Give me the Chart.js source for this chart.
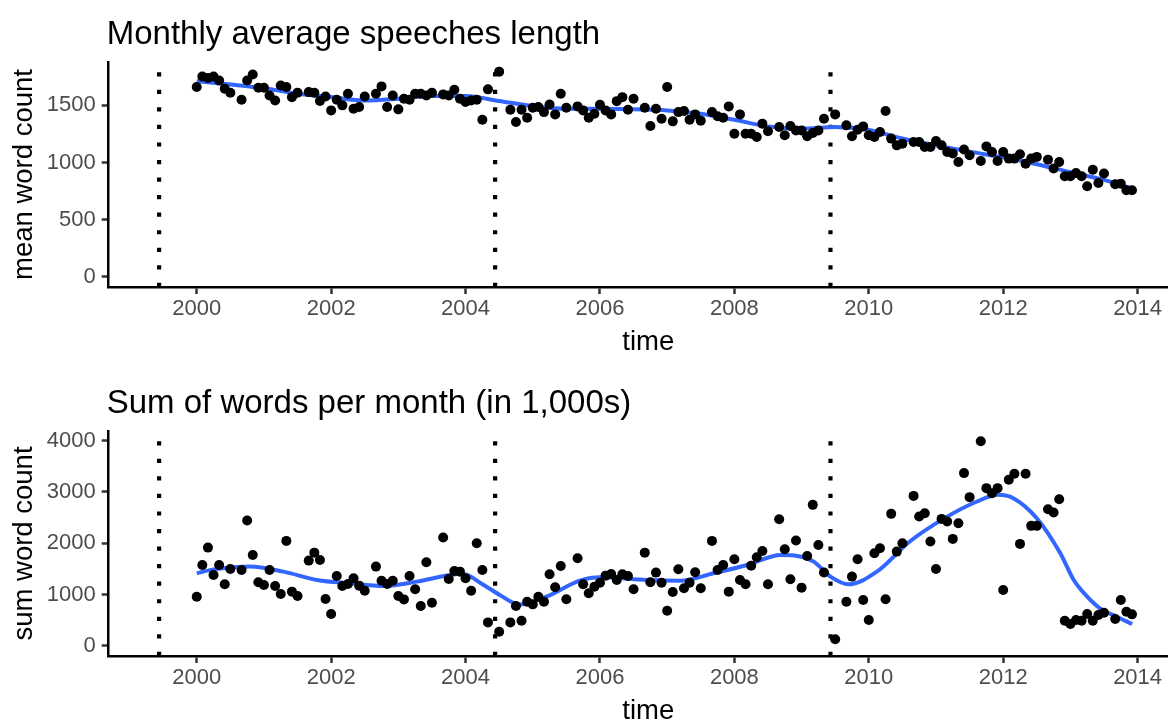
<!DOCTYPE html>
<html>
<head>
<meta charset="utf-8">
<script src="https://cdn.jsdelivr.net/npm/chart.js@4.4.1/dist/chart.umd.min.js"></script>
<style>
  html, body { margin: 0; padding: 0; background: #fff; overflow: hidden; width: 1168px; height: 722px; }
  .panel { position: absolute; left: 0; width: 1188px; height: 369px; }
  #top { top: 0; }
  #bottom { top: 369px; }
</style>
</head>
<body>
<div class="panel" id="top"><canvas id="meanChart" width="1188" height="369"></canvas></div>
<div class="panel" id="bottom"><canvas id="sumChart" width="1188" height="369"></canvas></div>
<script>
// monthly values, Jan 2000 .. Dec 2013 (null = no session that month)
const startYear = 2000
const meanWordCount = [
  1660, 1753, 1740, 1753, 1718, 1646, 1610, null, 1549, 1718, 1770, 1654,
  1654, 1587, 1543, 1674, 1660, 1572, 1610, null, 1616, 1610, 1538, 1578,
  1456, 1549, 1500, 1602, 1471, 1485, 1578, null, 1602, 1666, 1485, 1587,
  1465, 1558, 1549, 1602, 1602, 1587, 1610, null, 1596, 1587, 1637, 1558,
  1529, 1543, 1549, 1374, 1640, null, 1795, null, 1462, 1354, 1462, 1392,
  1479, 1485, 1441, 1508, 1421, 1602, 1479, null, 1491, 1456, 1392, 1427,
  1505, 1456, 1421, 1537, 1572, 1462, 1558, null, 1479, 1319, 1471, 1383,
  1660, 1360, 1441, 1450, 1374, 1421, 1366, null, 1441, 1404, 1392, 1491,
  1252, 1421, 1252, 1252, 1223, 1340, 1273, null, 1310, 1238, 1319, 1281,
  1281, 1229, 1258, 1281, 1383, null, 1421, null, 1325, 1229, 1287, 1316,
  1238, 1223, 1267, 1450, 1209, 1150, 1165, null, 1180, 1180, 1136, 1136,
  1188, 1150, 1092, 1078, 1005, 1113, 1063, null, 1013, 1141, 1092, 1013,
  1092, 1034, 1034, 1072, 990, 1034, 1049, null, 1025, 947, 1005, 879,
  879, 908, 879, 792, 937, 821, 903, null, 810, 815, 757, 757
]
const sumWordCount = [
  957, 1576, 1915, 1381, 1576, 1199, 1498, null, 1479, 2443, 1772, 1238,
  1186, 1479, 1167, 1010, 2046, 1056, 970, null, 1661, 1817, 1674, 912,
  619, 1362, 1167, 1205, 1316, 1173, 1075, null, 1544, 1270, 1205, 1270,
  970, 905, 1362, 1101, 776, 1629, 840, null, 2111, 1303, 1459, 1446,
  1316, 1075, 2000, 1479, 456, null, 274, null, 456, 776, 489, 860,
  808, 957, 860, 1394, 1140, 1557, 906, null, 1707, 1199, 1023, 1153,
  1231, 1368, 1401, 1284, 1394, 1362, 1101, null, 1817, 1238, 1427, 1231,
  684, 1049, 1492, 1121, 1231, 1433, 1121, null, 2046, 1479, 1576, 1056,
  1687, 1284, 1199, 1563, 1726, 1850, 1199, null, 2469, 1882, 1297, 2052,
  1134, 1752, 2749, 1967, 1430, null, 128, null, 860, 1349, 1687, 893,
  502, 1804, 1902, 906, 2573, 1837, 2000, null, 2924, 2520, 2586, 2033,
  1498, 2475, 2423, 2085, 2390, 3368, 2899, null, 3990, 3075, 2977, 3075,
  1088, 3238, 3355, 1987, 3355, 2339, 2339, null, 2664, 2599, 2859, 489,
  424, 502, 489, 619, 489, 600, 645, null, 521, 893, 665, 613
]

// smoothed trend
const meanSmoothX = [2000, 2000.5, 2001, 2001.5, 2002, 2002.5, 2003, 2003.5, 2004, 2004.5, 2005, 2005.5, 2006, 2006.5, 2007, 2007.5, 2008, 2008.5, 2009, 2009.5, 2010, 2010.5, 2011, 2011.5, 2012, 2012.5, 2013, 2013.5, 2013.92]
const meanSmoothY = [1712, 1683, 1650, 1602, 1573, 1543, 1558, 1581, 1581, 1538, 1495, 1470, 1471, 1465, 1456, 1427, 1374, 1316, 1296, 1310, 1285, 1210, 1150, 1095, 1045, 985, 915, 848, 772]
const sumSmoothX = [2000, 2000.25, 2000.79, 2001.29, 2001.79, 2002.28, 2002.78, 2003.27, 2003.77, 2003.95, 2004.27, 2004.51, 2004.8, 2005.2, 2005.7, 2006, 2006.7, 2007.2, 2007.69, 2008.19, 2008.69, 2008.94, 2009.18, 2009.43, 2009.7, 2010.12, 2010.61, 2011.11, 2011.61, 2011.93, 2012.15, 2012.5, 2012.85, 2013.05, 2013.25, 2013.44, 2013.69, 2013.92]
const sumSmoothY = [1413, 1490, 1544, 1446, 1284, 1218, 1166, 1251, 1381, 1405, 1186, 990, 805, 957, 1270, 1336, 1284, 1270, 1414, 1576, 1772, 1752, 1641, 1349, 1199, 1446, 2033, 2475, 2814, 2944, 2879, 2488, 1804, 1284, 958, 730, 567, 424]

// election dates (dotted lines)
const elections = [1999.44, 2004.44, 2009.43]

const yearTicks = [2000, 2002, 2004, 2006, 2008, 2010, 2012, 2014]
const meanTicks = [0, 500, 1000, 1500]
const sumTicks = [0, 1000, 2000, 3000, 4000]

const family = '"Liberation Sans", Arial, Helvetica, sans-serif'
Chart.defaults.font.family = family

const panelTitle = {
  id: 'panelTitle',
  afterDraw(chart, args, opts) {
    const { ctx, chartArea } = chart
    ctx.save()
    ctx.font = '33px ' + family
    ctx.fillStyle = '#000'
    ctx.textBaseline = 'alphabetic'
    ctx.fillText(opts.text, chartArea.left - 2, 44)
    ctx.restore()
  }
}

function toPoints(values) {
  return values
    .map((v, i) => (v === null ? null : { x: startYear + i / 12, y: v }))
    .filter(p => p !== null)
}

function buildPanel(canvasId, title, yTitle, values, smoothX, smoothY, yMin, yMax, yTicks) {
  const axisGrid = { drawOnChartArea: false, drawTicks: true, tickLength: 7, tickColor: '#333333', tickWidth: 2.5 }
  const axisBorder = { display: true, color: '#000', width: 2.5 }

  const datasets = [
    {
      data: toPoints(values),
      pointRadius: 5,
      pointBackgroundColor: '#000',
      pointBorderWidth: 0,
      showLine: false,
    },
    {
      data: smoothX.map((x, i) => ({ x, y: smoothY[i] })),
      showLine: true,
      borderColor: '#3366FF',
      borderWidth: 4,
      pointRadius: 0,
      cubicInterpolationMode: 'monotone',
    },
    ...elections.map(e => ({
      data: [{ x: e, y: yMin }, { x: e, y: yMax }],
      showLine: true,
      borderColor: '#000',
      borderWidth: 4.2,
      borderDash: [4.2, 13.35],
      borderCapStyle: 'butt',
      pointRadius: 0,
    })),
  ]

  return new Chart(document.getElementById(canvasId), {
    type: 'scatter',
    data: { datasets },
    plugins: [panelTitle],
    options: {
      responsive: false,
      animation: false,
      layout: { autoPadding: false, padding: { top: 62, right: 0, bottom: 10, left: 0 } },
      plugins: {
        legend: { display: false },
        tooltip: { enabled: false },
        panelTitle: { text: title },
      },
      scales: {
        x: {
          type: 'linear',
          min: 1998.69,
          max: 2014.75,
          afterBuildTicks: s => { s.ticks = yearTicks.map(v => ({ value: v })) },
          afterFit: s => { s.height = 72; s.paddingLeft = 0; s.paddingRight = 0 },
          grid: axisGrid,
          border: axisBorder,
          ticks: { color: '#4D4D4D', font: { size: 22 }, padding: 2, maxRotation: 0, autoSkip: false, callback: v => String(v) },
          title: { display: true, text: 'time', color: '#000', font: { size: 27.5 }, padding: { top: 0, bottom: 0.5 } },
        },
        y: {
          type: 'linear',
          min: yMin,
          max: yMax,
          afterBuildTicks: s => { s.ticks = yTicks.map(v => ({ value: v })) },
          afterFit: s => { s.width = 108.7; s.paddingTop = 0; s.paddingBottom = 0 },
          grid: axisGrid,
          border: axisBorder,
          ticks: { color: '#4D4D4D', font: { size: 22 }, padding: 6, callback: v => String(v) },
          title: { display: true, text: yTitle, color: '#000', font: { size: 27.5 }, padding: { top: 8, bottom: 0 } },
        },
      },
    },
  })
}

buildPanel('meanChart', 'Monthly average speeches length', 'mean word count',
  meanWordCount, meanSmoothX, meanSmoothY, -89.5, 1879.5, meanTicks)
buildPanel('sumChart', 'Sum of words per month (in 1,000s)', 'sum word count',
  sumWordCount, sumSmoothX, sumSmoothY, -199.5, 4189.5, sumTicks)
</script>
</body>
</html>
